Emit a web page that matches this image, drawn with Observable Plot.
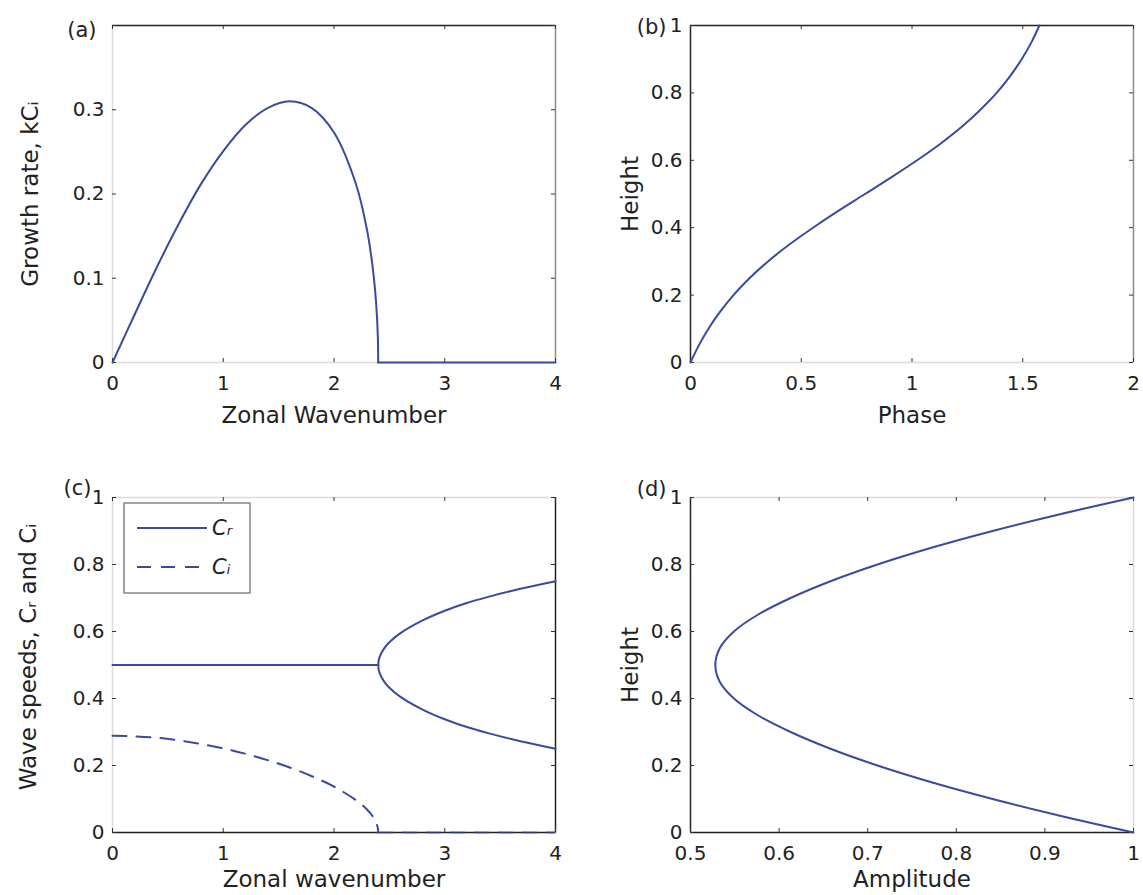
<!DOCTYPE html>
<html><head><meta charset="utf-8">
<script src="https://cdn.jsdelivr.net/npm/d3@7"></script>
<script src="https://cdn.jsdelivr.net/npm/@observablehq/plot@0.6"></script>
<style>
body{margin:0;background:#fff;}
#wrap{position:relative;width:1143px;height:895px;font-family:"DejaVu Sans";overflow:hidden;}
.panel{position:absolute;}
</style></head><body><div id="wrap"></div>
<script>
// ---------- data ----------
// (a) growth rate vs zonal wavenumber
const growthK    = [0, 0.2, 0.4, 0.6, 0.8, 1.0, 1.2, 1.4, 1.6, 1.8, 2.0, 2.2, 2.3, 2.35, 2.38, 2.395, 2.3994];
const growthRate = [0, 0.057, 0.113, 0.165, 0.212, 0.251, 0.282, 0.302, 0.310, 0.302, 0.273, 0.211, 0.156, 0.112, 0.071, 0.034, 0];
const growthZeroK = [2.3994, 4];
const growthZero  = [0, 0];
// (b) phase vs height
const phaseHeight = [0, 0.05, 0.1, 0.15, 0.2, 0.25, 0.3, 0.35, 0.4, 0.45, 0.5, 0.55, 0.6, 0.65, 0.7, 0.75, 0.8, 0.85, 0.9, 0.95, 1.0];
const phaseValues = [0, 0.037, 0.081, 0.133, 0.194, 0.266, 0.350, 0.446, 0.553, 0.667, 0.788, 0.908, 1.023, 1.130, 1.226, 1.309, 1.382, 1.443, 1.495, 1.539, 1.575];
// (c) wave speeds
const ciK = [0, 0.2, 0.4, 0.6, 0.8, 1.0, 1.2, 1.4, 1.6, 1.8, 2.0, 2.2, 2.3, 2.35, 2.38, 2.395, 2.3994];
const ciValues = [0.289, 0.287, 0.283, 0.275, 0.264, 0.251, 0.235, 0.216, 0.194, 0.168, 0.137, 0.096, 0.068, 0.048, 0.030, 0.014, 0];
const ciZeroK = [2.3994, 4];
const ciZero  = [0, 0];
const crFlatK = [0, 2.3994];
const crFlat  = [0.5, 0.5];
const branchK = [2.3994, 2.41, 2.45, 2.5, 2.6, 2.8, 3.0, 3.2, 3.4, 3.6, 3.8, 4.0];
const crUpper = [0.5, 0.522, 0.548, 0.568, 0.595, 0.633, 0.662, 0.685, 0.704, 0.721, 0.736, 0.750];
const crLower = [0.5, 0.478, 0.452, 0.432, 0.405, 0.367, 0.338, 0.315, 0.296, 0.279, 0.264, 0.250];
// (d) amplitude vs height
const ampHeight = [0, 0.05, 0.1, 0.15, 0.2, 0.25, 0.3, 0.35, 0.4, 0.45, 0.5, 0.55, 0.6, 0.65, 0.7, 0.75, 0.8, 0.85, 0.9, 0.95, 1.0];
const ampValues = [1.0, 0.917, 0.841, 0.772, 0.711, 0.658, 0.613, 0.576, 0.549, 0.533, 0.528, 0.533, 0.549, 0.576, 0.613, 0.658, 0.711, 0.772, 0.841, 0.917, 1.0];

// tick labels
const ticksA_x = [0, 1, 2, 3, 4];
const ticksA_y = [0, 0.1, 0.2, 0.3, 0.4];
const ticksB_x = [0, 0.5, 1, 1.5, 2];
const ticksB_y = [0, 0.2, 0.4, 0.6, 0.8, 1];
const ticksC_x = [0, 1, 2, 3, 4];
const ticksC_y = [0, 0.2, 0.4, 0.6, 0.8, 1];
const ticksD_x = [0.5, 0.6, 0.7, 0.8, 0.9, 1];
const ticksD_y = [0, 0.2, 0.4, 0.6, 0.8, 1];

const BLUE = "#3a4aa0";
const DARK = "#222", MID = "#8a8a8a", LIGHT = "#dcdcdc";
const zip = (xs, ys) => xs.map((x, i) => ({x, y: ys[i]}));

function panel(o) {
  const pw = o.width - o.ml - o.mr, ph = o.height - o.mt - o.mb;
  const [x0, x1] = o.xDomain, [y0, y1] = o.yDomain;
  const marks = [
    Plot.ruleY([y0], {stroke: o.edges.bottom, strokeWidth: 1.5}),
    Plot.ruleY([y1], {stroke: o.edges.top, strokeWidth: 1.5}),
    Plot.ruleX([x0], {stroke: o.edges.left, strokeWidth: 1.5}),
    Plot.ruleX([x1], {stroke: o.edges.right, strokeWidth: 1.5}),
    // inward ticks on all four sides
    Plot.ruleX(o.xTicks, {x: d => d, insetTop: ph - 4, stroke: "#333"}),
    Plot.ruleX(o.xTicks, {x: d => d, insetBottom: ph - 4, stroke: "#333"}),
    Plot.ruleY(o.yTicks, {y: d => d, insetRight: pw - 4, stroke: "#333"}),
    Plot.ruleY(o.yTicks, {y: d => d, insetLeft: pw - 4, stroke: "#333"}),
    Plot.axisX(o.xTicks, {anchor: "bottom", tickSize: 0, tickPadding: 13, label: null,
      tickFormat: o.xFmt || (d => String(d)), fill: "#222"}),
    Plot.axisY(o.yTicks, {anchor: "left", tickSize: 0, tickPadding: 8, label: null,
      tickFormat: o.yFmt || (d => String(d)), fill: "#222"}),
    ...o.marks,
    Plot.text([o.xLabel], {frameAnchor: "bottom", dy: o.xOff, textAnchor: "middle", lineAnchor: "bottom", fontSize: 23, fill: "#222"}),
    Plot.text([o.yLabel], {frameAnchor: "left", dx: -o.yOff, dy: o.yDy || 0, rotate: -90, textAnchor: "middle", lineAnchor: "bottom", fontSize: 23, fill: "#222"}),
    Plot.text([o.tag], {frameAnchor: "top-left", dx: o.tagDx, dy: o.tagDy, textAnchor: "end", fontSize: 21, fill: "#222"})
  ];
  const svg = Plot.plot({
    width: o.width, height: o.height,
    marginLeft: o.ml, marginRight: o.mr, marginTop: o.mt, marginBottom: o.mb,
    x: {domain: o.xDomain},
    y: {domain: o.yDomain},
    style: {fontFamily: "DejaVu Sans", fontSize: "20px", background: "transparent", overflow: "visible", color: "#222"},
    marks
  });
  svg.setAttribute("class", "panel");
  svg.style.left = o.left + "px";
  svg.style.top = o.top + "px";
  document.getElementById("wrap").appendChild(svg);
}

const lineOpts = {x: "x", y: "y", stroke: BLUE, strokeWidth: 2, curve: "catmull-rom"};

panel({left: 0, top: 0, width: 571, height: 440, ml: 112, mr: 16, mt: 25, mb: 78,
  xDomain: [0, 4], yDomain: [0, 0.4], xTicks: ticksA_x, yTicks: ticksA_y,
  yFmt: d => d === 0.4 ? "" : String(d),
  edges: {top: DARK, left: LIGHT, bottom: LIGHT, right: MID},
  marks: [
    Plot.line(zip(growthK, growthRate), lineOpts),
    Plot.line(zip(growthZeroK, growthZero), {...lineOpts, curve: "linear"})
  ],
  xLabel: "Zonal Wavenumber", xOff: 60, yLabel: "Growth rate, kCᵢ", yOff: 75,
  tag: "(a)", tagDx: -16, tagDy: -3});

panel({left: 571, top: 0, width: 572, height: 440, ml: 119, mr: 10, mt: 25, mb: 78,
  xDomain: [0, 2], yDomain: [0, 1], xTicks: ticksB_x, yTicks: ticksB_y,
  edges: {top: DARK, left: DARK, bottom: LIGHT, right: MID},
  marks: [
    Plot.line(zip(phaseValues, phaseHeight), lineOpts)
  ],
  xLabel: "Phase", xOff: 60, yLabel: "Height", yOff: 53,
  tag: "(b)", tagDx: -24, tagDy: -6});

panel({left: 0, top: 440, width: 571, height: 455, ml: 112, mr: 16, mt: 57, mb: 63,
  xDomain: [0, 4], yDomain: [0, 1], xTicks: ticksC_x, yTicks: ticksC_y,
  edges: {top: LIGHT, left: LIGHT, bottom: DARK, right: DARK},
  marks: [
    Plot.line(zip(crFlatK, crFlat), {...lineOpts, curve: "linear"}),
    Plot.line([...zip(branchK, crUpper).reverse(), ...zip(branchK, crLower).slice(1)], lineOpts),
    Plot.line(zip(ciK, ciValues), {...lineOpts, strokeDasharray: "14,10"}),
    Plot.line(zip(ciZeroK, ciZero), {...lineOpts, curve: "linear", strokeDasharray: "14,10", strokeOpacity: 0.6})
  ],
  xLabel: "Zonal wavenumber", xOff: 54, yLabel: "Wave speeds, Cᵣ and Cᵢ", yOff: 77, yDy: -8,
  tag: "(c)", tagDx: -21, tagDy: -17});

panel({left: 571, top: 440, width: 572, height: 455, ml: 119, mr: 10, mt: 57, mb: 63,
  xDomain: [0.5, 1], yDomain: [0, 1], xTicks: ticksD_x, yTicks: ticksD_y,
  edges: {top: LIGHT, left: DARK, bottom: DARK, right: LIGHT},
  marks: [
    Plot.line(zip(ampValues, ampHeight), lineOpts)
  ],
  xLabel: "Amplitude", xOff: 54, yLabel: "Height", yOff: 53,
  tag: "(d)", tagDx: -24, tagDy: -16});

// legend for panel (c)
const legendItems = [{label: "Cᵣ", dash: null}, {label: "Cᵢ", dash: "14,10"}];
const lg = d3.select("#wrap").append("svg").attr("class", "panel")
  .style("left", "0px").style("top", "0px").attr("width", 1143).attr("height", 895)
  .style("pointer-events", "none");
lg.append("rect").attr("x", 124).attr("y", 503).attr("width", 126).attr("height", 90)
  .attr("fill", "#fff").attr("stroke", "#666").attr("stroke-width", 1.2);
legendItems.forEach((d, i) => {
  const y = 528 + i * 39;
  lg.append("line").attr("x1", 137).attr("x2", 207).attr("y1", y).attr("y2", y)
    .attr("stroke", BLUE).attr("stroke-width", 2).attr("stroke-dasharray", d.dash);
  lg.append("text").attr("x", 212).attr("y", y).attr("dy", "0.35em")
    .attr("font-family", "DejaVu Sans").attr("font-size", 21).attr("font-style", "italic")
    .attr("fill", "#222").text(d.label);
});
</script>
</body></html>
